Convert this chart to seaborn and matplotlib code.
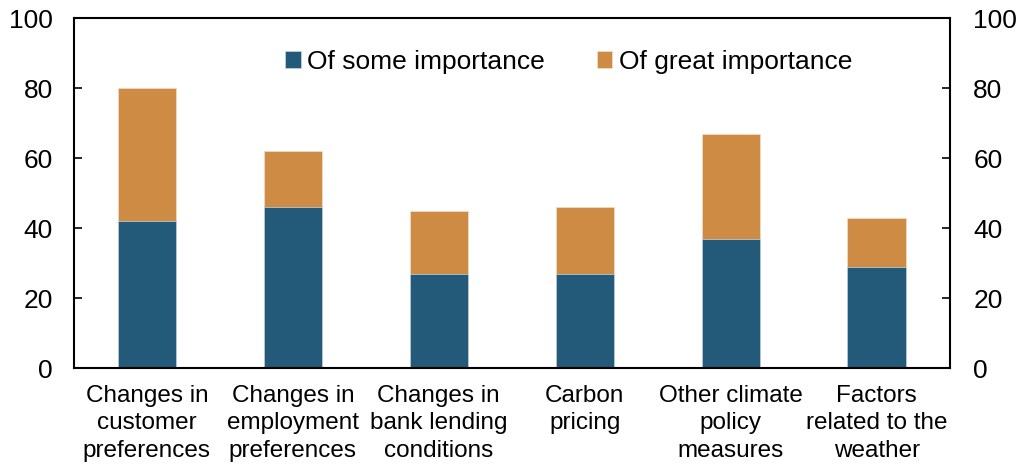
import matplotlib
matplotlib.use("Agg")
import matplotlib.pyplot as plt
import seaborn as sns
import pandas as pd
import numpy as np

categories = ["Changes in\ncustomer\npreferences",
              "Changes in\nemployment\npreferences",
              "Changes in\nbank lending\nconditions",
              "Carbon\npricing",
              "Other climate\npolicy\nmeasures",
              "Factors\nrelated to the\nweather"]
some_importance = [42, 46, 27, 27, 37, 29]
great_importance = [38, 16, 18, 19, 30, 14]

blue = "#235A79"
orange = "#CD8B43"

df = pd.DataFrame({"category": categories,
                   "some": some_importance,
                   "great": great_importance})
df["total"] = df["some"] + df["great"]

sns.set_style("white")
plt.rcParams['font.family'] = ['Liberation Sans', 'DejaVu Sans']
plt.rcParams['text.color'] = 'black'
plt.rcParams['xtick.color'] = 'black'
plt.rcParams['ytick.color'] = 'black'

fig = plt.figure(figsize=(10.2, 4.65), dpi=100)
ax = fig.add_axes([0.0725, 0.2086, 0.8585, 0.7525])

sns.barplot(data=df, x="category", y="total", color=orange, width=0.4,
            saturation=1, ax=ax, label="Of great importance", linewidth=0.5,
            edgecolor="#f0e0cc")
sns.barplot(data=df, x="category", y="some", color=blue, width=0.4,
            saturation=1, ax=ax, label="Of some importance", linewidth=0.5,
            edgecolor="#c8d6e0")

ax.set_xlim(-0.5, 5.5)
ax.set_ylim(0, 100)
ax.set_xlabel("")
ax.set_ylabel("")
ax.set_yticks(np.arange(0, 101, 20))
ax.tick_params(axis="y", direction="in", length=6, width=1.2, labelsize=19, pad=15)
ax.set_xticks(range(len(categories)))
ax.set_xticklabels(categories, fontsize=17.5, linespacing=1.32)
ax.tick_params(axis="x", which="major", length=0, pad=12)
ax.set_xticks(np.arange(0.5, 5.0, 1.0), minor=True)
ax.tick_params(axis="x", which="minor", direction="in", length=7, width=1.2)

for s in ax.spines.values():
    s.set_visible(True)
    s.set_color("black")
    s.set_linewidth(1.5)

ax2 = ax.twinx()
ax2.set_ylim(0, 100)
ax2.set_yticks(np.arange(0, 101, 20))
ax2.tick_params(axis="y", direction="in", length=6, width=1.2, labelsize=19, pad=17)
for s in ax2.spines.values():
    s.set_visible(False)

handles, labels = ax.get_legend_handles_labels()
order = [labels.index("Of some importance"), labels.index("Of great importance")]
leg = ax.legend([handles[i] for i in order], [labels[i] for i in order],
                loc="center", bbox_to_anchor=(0.565, 0.875), ncol=2,
                frameon=False, fontsize=19, handlelength=0.6, handleheight=0.6,
                handletextpad=0.25, columnspacing=1.95)

fig.savefig("out.png", dpi=100)
